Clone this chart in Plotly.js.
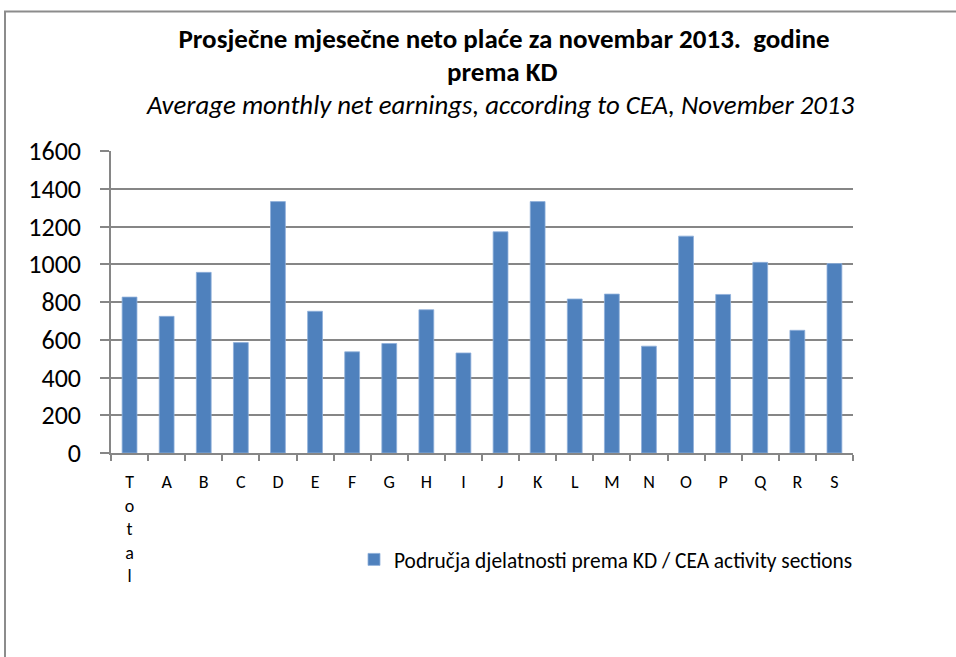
<!DOCTYPE html>
<html>
<head>
<meta charset="utf-8">
<script src="https://cdn.plot.ly/plotly-3.0.1.min.js"></script>
<style>
html,body{margin:0;padding:0;background:#fff;}
#chart{width:956px;height:657px;}
</style>
</head>
<body>
<div id="chart"></div>
<script>
// Data
const categories = ["Total","A","B","C","D","E","F","G","H","I","J","K","L","M","N","O","P","Q","R","S"];
const tickLabels = ["T<br>o<br>t<br>a<br>l","A","B","C","D","E","F","G","H","I","J","K","L","M","N","O","P","Q","R","S"];
const earnings = [826,724,957,585,1332,751,536,580,759,530,1172,1332,816,842,566,1149,840,1010,650,1004];
const seriesName = "Područja djelatnosti prema KD / CEA activity sections";
const titleLine1 = "Prosječne mjesečne neto plaće za novembar 2013.  godine";
const titleLine2 = "prema KD";
const subtitleText = "Average monthly net earnings, according to CEA, November 2013";
const yTicks = [0,200,400,600,800,1000,1200,1400,1600];

const FONT = "Carlito, Lato, 'Liberation Sans', sans-serif";
const GRID = "#868686";

// plot-area geometry helpers (pixels -> paper)
const PX0 = 111, PW = 742, PY0 = 453.3, PH = 302.6, H = 657;
const px = v => (v - PX0) / PW;
const py = v => (PY0 - v) / PH;

const trace = {
  type: "bar",
  x: categories,
  y: earnings,
  name: seriesName,
  marker: {color: "#4F81BD", line: {color: "#8FB0DA", width: 0.8}},
  showlegend: true,
  hoverinfo: "x+y"
};

const layout = {
  width: 956,
  height: 657,
  margin: {l: 111, r: 103, t: 151, b: 204, pad: 0},
  paper_bgcolor: "#fff",
  plot_bgcolor: "#fff",
  font: {family: FONT, color: "#000"},
  bargap: 0.6,
  title: {
    text: "<b>" + titleLine1 + "</b>",
    font: {family: FONT, size: 27, color: "#000"},
    xref: "paper", x: px(504), xanchor: "center",
    yref: "container", y: 1 - 38.5 / H, yanchor: "middle"
  },
  annotations: [{
    text: "<b>" + titleLine2 + "</b>",
    xref: "paper", yref: "paper",
    x: px(502), y: py(71.5),
    xanchor: "center", yanchor: "middle",
    showarrow: false,
    font: {family: FONT, size: 27, color: "#000"}
  }, {
    text: "<i>" + subtitleText + "</i>",
    xref: "paper", yref: "paper",
    x: px(499.5), y: py(104.5),
    xanchor: "center", yanchor: "middle",
    showarrow: false,
    font: {family: FONT, size: 26.8, color: "#000"}
  }],
  xaxis: {
    type: "category",
    tickmode: "array",
    tickvals: categories,
    ticktext: tickLabels,
    tickson: "boundaries",
    ticks: "outside",
    ticklen: 6,
    tickcolor: GRID,
    tickwidth: 1.5,
    showline: true,
    linecolor: GRID,
    linewidth: 1.5,
    showgrid: false,
    zeroline: false,
    tickangle: 0,
    ticklabelstandoff: 12,
    tickfont: {family: FONT, size: 18, color: "#000"}
  },
  yaxis: {
    range: [0, 1600],
    tickmode: "array",
    tickvals: yTicks,
    ticktext: yTicks.map(String),
    ticks: "outside",
    ticklen: 9,
    tickcolor: GRID,
    tickwidth: 1.5,
    showline: true,
    linecolor: GRID,
    linewidth: 1.5,
    showgrid: true,
    gridcolor: GRID,
    gridwidth: 1.5,
    zeroline: false,
    ticklabelstandoff: 14,
    tickfont: {family: FONT, size: 26, color: "#000"}
  },
  legend: {
    orientation: "h",
    x: px(354), xanchor: "left",
    y: py(560), yanchor: "middle",
    font: {family: FONT, size: 21.4, color: "#000"},
    bgcolor: "rgba(0,0,0,0)"
  },
  shapes: [{
    type: "rect", xref: "paper", yref: "paper",
    x0: px(5), x1: px(965),
    y0: py(670), y1: py(11),
    line: {color: "#8C8C8C", width: 2},
    fillcolor: "rgba(0,0,0,0)",
    layer: "below"
  }]
};

Plotly.newPlot("chart", [trace], layout, {displayModeBar: false, responsive: false});
</script>
</body>
</html>
